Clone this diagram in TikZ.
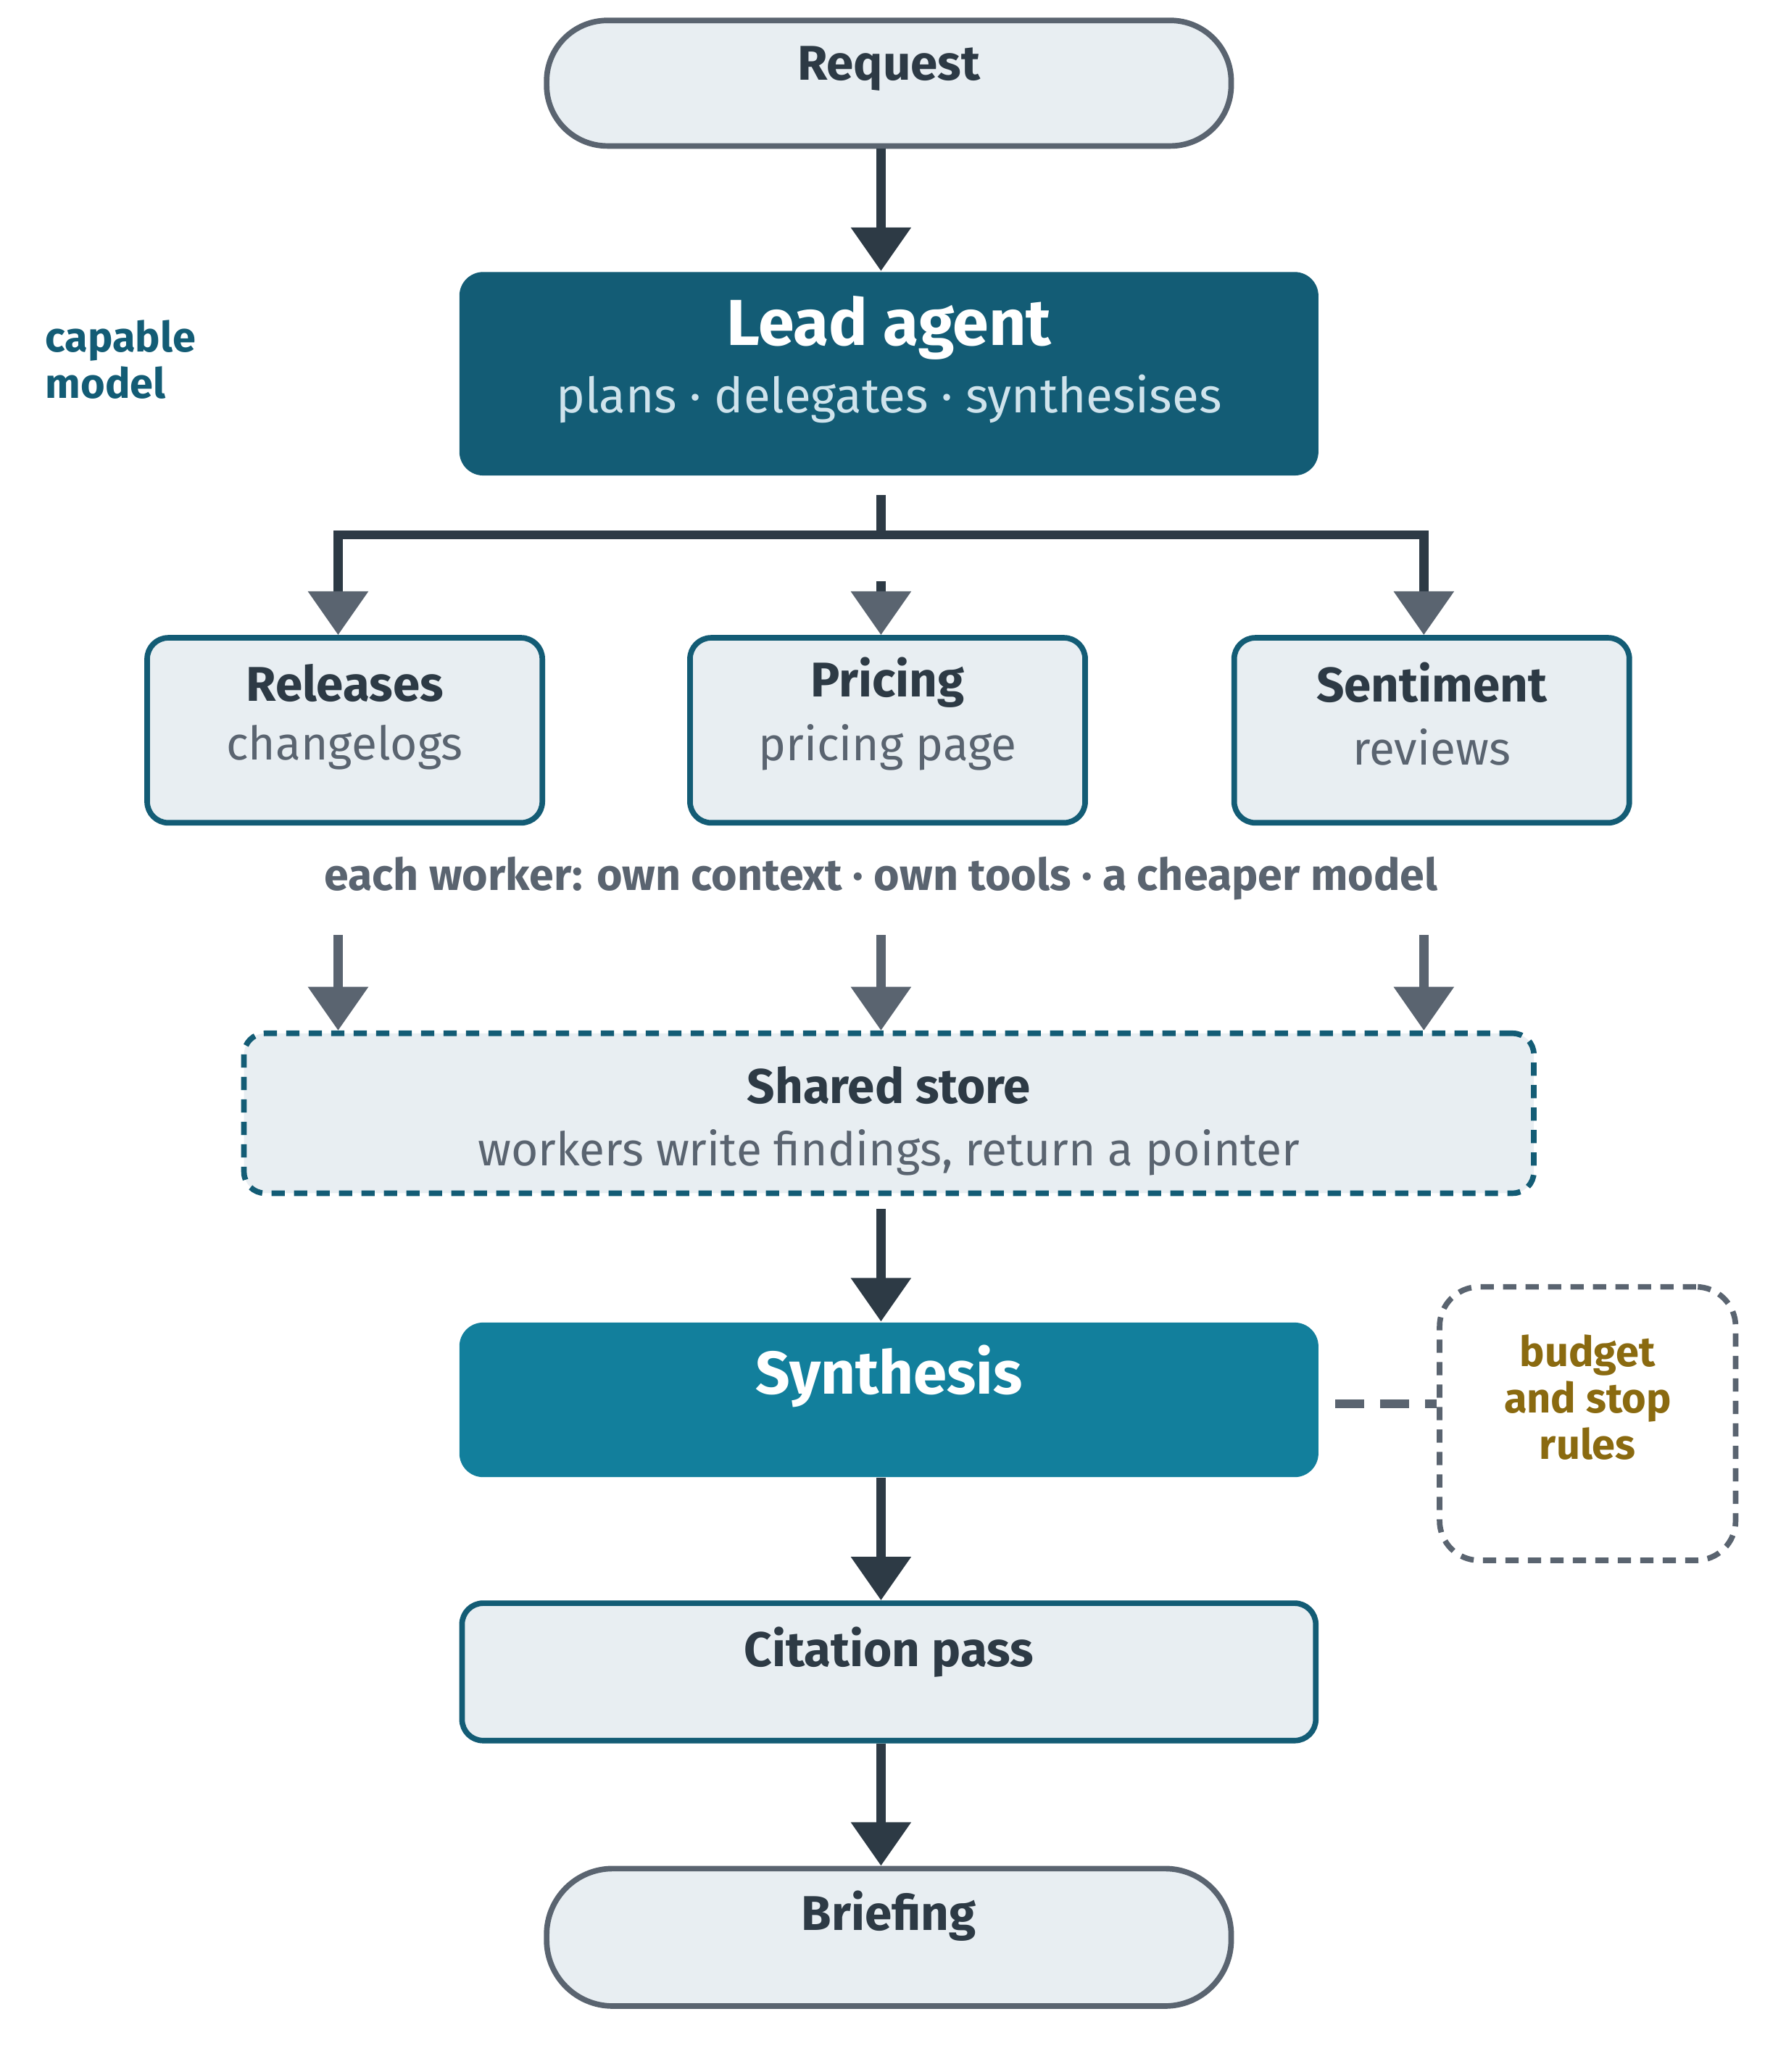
\documentclass[tikz,border=0pt]{standalone}
\usepackage{fontspec}
\setmainfont{Fira Sans}
\usetikzlibrary{arrows.meta}
\definecolor{ink}{HTML}{2D3A45}
\definecolor{slate}{HTML}{5A6470}
\definecolor{pale}{HTML}{E8EEF2}
\definecolor{deepteal}{HTML}{135C75}
\definecolor{midteal}{HTML}{127F9C}
\definecolor{lightblue}{HTML}{CFE3EC}
\definecolor{olive}{HTML}{8A6A10}
\begin{document}
\begin{tikzpicture}[
        x=0.01cm, y=-0.01cm,
        font=\fontsize{9.5}{11}\selectfont
    ]
    \tikzset{
        pill/.style = {draw=slate, fill=pale, line width=1.2pt, rounded corners=0.46cm, minimum width=5.18cm, minimum height=0.95cm, inner sep=0pt},
        leadbox/.style = {fill=deepteal, rounded corners=0.18cm, minimum width=6.5cm, minimum height=1.54cm, inner sep=0pt},
        workerbox/.style = {draw=deepteal, fill=pale, line width=1.2pt, rounded corners=0.16cm, minimum width=2.99cm, minimum height=1.4cm, inner sep=0pt},
        storebox/.style = {draw=deepteal, fill=pale, line width=1.2pt, dash pattern=on 0.1cm off 0.07cm, rounded corners=0.16cm, minimum width=9.76cm, minimum height=1.21cm, inner sep=0pt},
        synthbox/.style = {fill=midteal, rounded corners=0.18cm, minimum width=6.5cm, minimum height=1.17cm, inner sep=0pt},
        rulebox/.style = {draw=slate, line width=1.2pt, dash pattern=on 0.1cm off 0.07cm, rounded corners=0.3cm, minimum width=2.24cm, minimum height=2.07cm, inner sep=0pt},
        title/.style = {font=\fontsize{10.5}{12}\selectfont\bfseries, text=ink},
        sub/.style = {font=\fontsize{10}{12}\selectfont, text=slate},
        darrow/.style = {draw=ink, line width=2pt, -{Triangle[width=12.5pt,length=9.4pt]}},
        garrow/.style = {draw=slate, line width=2pt, -{Triangle[width=12.5pt,length=9.4pt]}},
    }
    \useasboundingbox (0,0) rectangle (1336,1569);
    % boxes
    \node[pill] (request) at (673,63) {};
    \node[leadbox] (lead) at (673,283) {};
    \node[workerbox] (releases) at (261,553) {};
    \node[workerbox] (pricing) at (672,553) {};
    \node[workerbox] (sentiment) at (1084,553) {};
    \node[storebox] (store) at (673,843) {};
    \node[synthbox] (synth) at (673,1060) {};
    \node[rulebox] (rules) at (1202,1078) {};
    \node[workerbox, minimum width=6.46cm, minimum height=1.04cm] (cite) at (673,1266) {};
    \node[pill, minimum height=1.04cm, rounded corners=0.5cm] (brief) at (673,1467) {};
    % texts
    \node[title] at (673,52) {Request};
    \node[font=\fontsize{14}{16}\selectfont\bfseries, text=white] at (673,248) {Lead agent};
    \node[font=\fontsize{10.5}{12}\selectfont, text=lightblue] at (673,302) {plans · delegates · synthesises};
    \node[anchor=west, align=left, font=\fontsize{9}{11}\selectfont\bfseries, text=deepteal] at (22,272) {capable\\[-1pt]model};
    \node[title] at (261,517) {Releases};
    \node[sub] at (261,566) {changelogs};
    \node[title] at (672,517) {Pricing};
    \node[sub] at (672,566) {pricing page};
    \node[title] at (1084,517) {Sentiment};
    \node[sub] at (1084,566) {reviews};
    \node[font=\fontsize{9.5}{11}\selectfont\bfseries, text=slate] at (667,665) {each worker: own context · own tools · a cheaper model};
    \node[title] at (673,822) {Shared store};
    \node[sub] at (673,873) {workers write findings, return a pointer};
    \node[font=\fontsize{13}{15}\selectfont\bfseries, text=white] at (673,1042) {Synthesis};
    \node[align=center, font=\fontsize{9}{11}\selectfont\bfseries, text=olive] at (1202,1058) {budget\\[-1pt]and stop\\[-1pt]rules};
    \node[title] at (673,1251) {Citation pass};
    \node[title] at (673,1451) {Briefing};
    % connectors
    \draw[darrow] (request.south -| 667,0) -- (lead.north -| 667,0);
    \coordinate (fork) at (667,375);
    \draw[ink, line width=2pt] (fork) -- (667,405) (256,445) |- (1078,405) -- (1078,445);
    \foreach \w/\x in {releases/256, pricing/667, sentiment/1078} {
        \draw[garrow, -{Triangle[width=12.5pt,length=9.4pt,color=slate]}, draw=ink] (\x,440) -- (\w.north -| \x,0);
        \draw[garrow] (\x,708) -- (store.north -| \x,0);
    }
    \draw[darrow] (store.south -| 667,0) ++(0,10) -- (synth.north -| 667,0);
    \draw[darrow] (synth.south -| 667,0) -- (cite.north -| 667,0);
    \draw[darrow] (cite.south -| 667,0) -- (brief.north -| 667,0);
    \draw[slate, line width=1.2pt, dash pattern=on 0.22cm off 0.12cm, line width=2pt] (synth.east) ++(12,3) -- (rules.west |- 0,1063);
\end{tikzpicture}
\end{document}
